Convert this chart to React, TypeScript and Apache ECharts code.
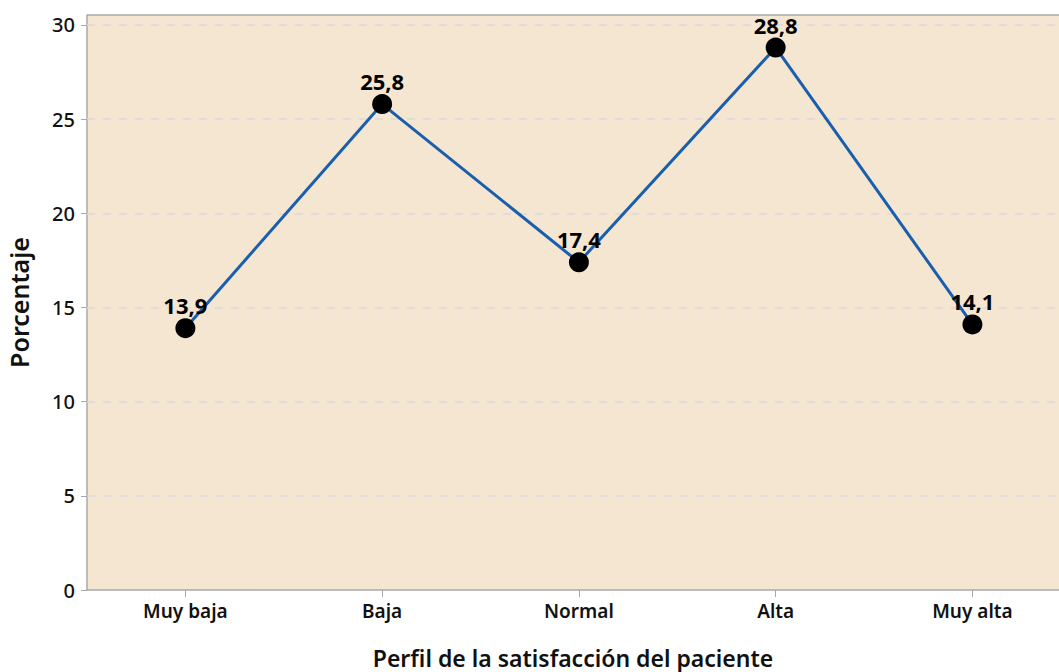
import React, { useEffect, useRef } from "react";
import * as echarts from "echarts";

const categories = ["Muy baja", "Baja", "Normal", "Alta", "Muy alta"];
const percentages = [13.9, 25.8, 17.4, 28.8, 14.1];
const yTicks = [0, 5, 10, 15, 20, 25, 30];

const FONT = "'Noto Sans', 'Open Sans', sans-serif";

export default function App() {
  const ref = useRef<HTMLDivElement>(null);
  useEffect(() => {
    if (!ref.current) return;
    const chart = echarts.init(ref.current, null, { renderer: "svg" });
    const axisGray = "#A8A8A8";
    chart.setOption({
      animation: false,
      backgroundColor: "#ffffff",
      grid: {
        left: 87,
        right: 0,
        top: 15,
        bottom: 82,
        show: true,
        backgroundColor: "#F5E6D2",
        borderWidth: 0,
        containLabel: false,
        outerBoundsMode: "none",
      },
      xAxis: {
        type: "value",
        min: -0.5,
        max: 4.44,
        name: "Perfil de la satisfacción del paciente",
        nameLocation: "middle",
        nameGap: 56,
        nameTextStyle: { fontFamily: FONT, fontSize: 23, fontWeight: 600, color: "#111" },
        axisLine: { show: true, onZero: false, lineStyle: { color: axisGray, width: 1.5 } },
        axisTick: { show: true, customValues: [0, 1, 2, 3, 4], length: 7, lineStyle: { color: axisGray } },
        splitLine: { show: false },
        axisLabel: {
          customValues: [0, 1, 2, 3, 4],
          formatter: (v: number) => categories[Math.round(v)] ?? "",
          fontFamily: FONT,
          fontSize: 19,
          fontWeight: 600,
          color: "#111",
          margin: 11,
        },
      },
      yAxis: {
        type: "value",
        min: 0,
        max: 30.53,
        name: "Porcentaje",
        nameLocation: "middle",
        nameGap: 56,
        nameTextStyle: { fontFamily: FONT, fontSize: 25, fontWeight: 600, color: "#111" },
        axisLine: { show: true, onZero: false, lineStyle: { color: axisGray, width: 1.5 } },
        axisTick: { show: true, customValues: yTicks, length: 6, lineStyle: { color: axisGray } },
        axisLabel: {
          customValues: yTicks,
          fontFamily: FONT,
          fontSize: 20,
          fontWeight: 500,
          color: "#111",
          margin: 12,
        },
        splitLine: { show: false },
      },
      series: [
        {
          type: "line",
          data: percentages.map((v, i) => [i, v]),
          lineStyle: { color: "#1A5FAD", width: 3 },
          itemStyle: { color: "#000000" },
          symbol: "circle",
          symbolSize: 20,
          label: {
            show: true,
            position: "top",
            distance: 2,
            formatter: (p: any) => String(p.value[1]).replace(".", ","),
            fontFamily: FONT,
            fontSize: 22,
            fontWeight: 700,
            color: "#000",
          },
          markLine: {
            silent: true,
            symbol: "none",
            label: { show: false },
            lineStyle: { color: "#D9D9D9", type: [8, 8], width: 1.5 },
            data: yTicks.slice(1).map((t) => ({ yAxis: t })),
            z: 1,
          },
          z: 3,
        },
        {
          type: "line",
          data: [],
          markLine: {
            silent: true,
            symbol: "none",
            label: { show: false },
            lineStyle: { color: axisGray, type: "solid", width: 1.5 },
            data: [{ yAxis: 30.53 }],
          },
        },
      ],
    });
    return () => chart.dispose();
  }, []);
  return (
    <div
      ref={ref}
      style={{ position: "fixed", left: 0, top: 0, width: 1059, height: 672 }}
    />
  );
}
